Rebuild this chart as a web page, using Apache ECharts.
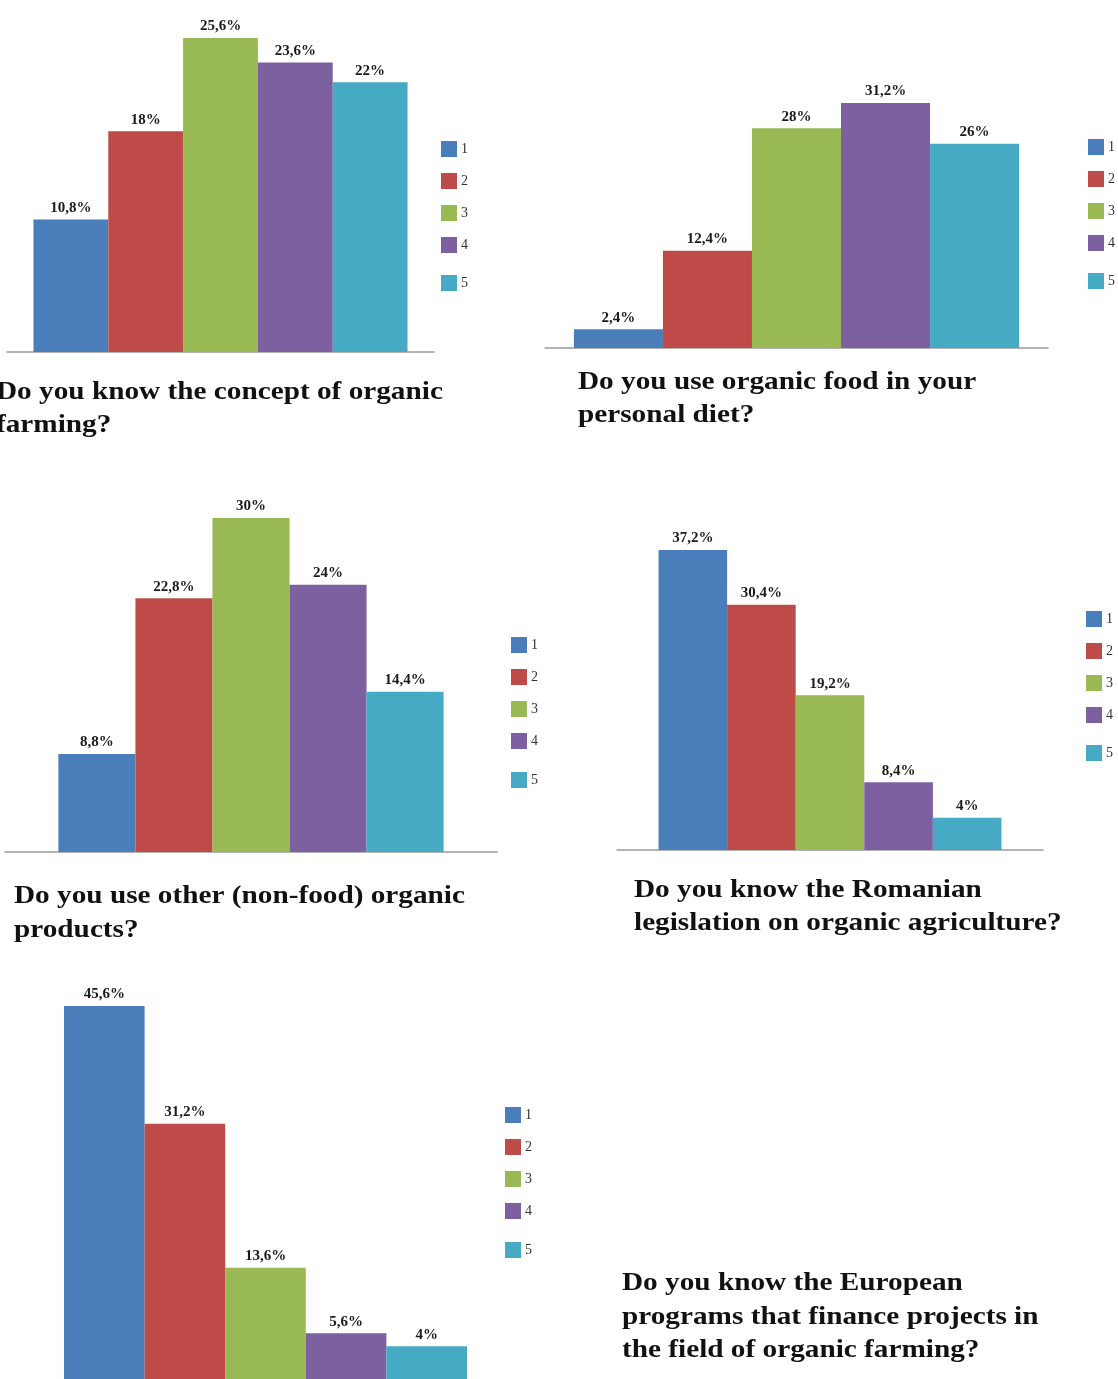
<!DOCTYPE html>
<html>
<head>
<meta charset="utf-8">
<script src="https://cdn.jsdelivr.net/npm/echarts@6/dist/echarts.min.js"></script>
<style>
html,body{margin:0;padding:0;background:#fff;}
#c{width:1118px;height:1379px;}
</style>
</head>
<body>
<div id="c"></div>
<script>
// ---- data ----
const categories = ['1', '2', '3', '4', '5'];
const chart1Values = [10.8, 18, 25.6, 23.6, 22];
const chart2Values = [2.4, 12.4, 28, 31.2, 26];
const chart3Values = [8.8, 22.8, 30, 24, 14.4];
const chart4Values = [37.2, 30.4, 19.2, 8.4, 4];
const chart5Values = [45.6, 31.2, 13.6, 5.6, 4];
const titles = [
  'Do you know the concept of organic\nfarming?',
  'Do you use organic food in your\npersonal diet?',
  'Do you use other (non-food) organic\nproducts?',
  'Do you know the Romanian\nlegislation on organic agriculture?',
  'Do you know the European\nprograms that finance projects in\nthe field of organic farming?'
];
const colors = ['#4A7EBB', '#BE4B48', '#98B954', '#7D60A0', '#46AAC5'];

// ---- layout (styles/positions) ----
const SERIF = '"Liberation Serif", "DejaVu Serif", serif';
const layouts = [
  {grid: {left: 7, right: 684, top: 38, bottom: 1027}, gap: '12.4%', legend: {left: 441, top: 141, top5: 275}, title: {x: -4, y: 376, lh: 33}},
  {grid: {left: 545, right: 70, top: 103, bottom: 1031}, gap: '11.5%', legend: {left: 1088, top: 139, top5: 273}, title: {x: 578, y: 366, lh: 33}},
  {grid: {left: 5, right: 621, top: 518, bottom: 527}, gap: '21.7%', legend: {left: 511, top: 637, top5: 772}, title: {x: 14, y: 879, lh: 34}},
  {grid: {left: 617, right: 75, top: 550, bottom: 529}, gap: '19.5%', legend: {left: 1086, top: 611, top5: 745}, title: {x: 634, y: 874, lh: 33}},
  {grid: {left: 64, right: 651, top: 1006, bottom: -4}, gap: '0%', legend: {left: 505, top: 1107, top5: 1242}, title: {x: 622, y: 1267, lh: 33.5}, noAxis: true}
];
const allValues = [chart1Values, chart2Values, chart3Values, chart4Values, chart5Values];

const option = {
  animation: false,
  backgroundColor: '#fff',
  color: colors,
  grid: [], xAxis: [], yAxis: [], series: [], legend: [], graphic: []
};

const fmt = p => String(p.value).replace('.', ',') + '%';

layouts.forEach((L, i) => {
  option.grid.push(Object.assign({containLabel: false}, L.grid));
  option.xAxis.push({
    type: 'category', gridIndex: i, data: [''],
    axisLine: {show: !L.noAxis, lineStyle: {color: '#9a9a9a', width: 1.5}},
    axisTick: {show: false}, axisLabel: {show: false}, splitLine: {show: false}
  });
  option.yAxis.push({
    type: 'value', gridIndex: i, min: 0, max: 'dataMax', show: false,
    splitLine: {show: false}
  });
  categories.forEach((name, k) => {
    option.series.push({
      type: 'bar', name: name, xAxisIndex: i, yAxisIndex: i,
      data: [allValues[i][k]],
      barGap: '0%', barCategoryGap: L.gap,
      itemStyle: {color: colors[k]},
      label: {
        show: true, position: 'top', distance: 4, formatter: fmt,
        fontFamily: SERIF, fontWeight: 'bold', fontSize: 15, color: '#1a1a1a'
      }
    });
  });
  const legBase = {
    orient: 'vertical', left: L.legend.left, icon: 'rect',
    itemWidth: 16, itemHeight: 16, itemGap: 16, padding: 0,
    selectedMode: false,
    textStyle: {fontFamily: SERIF, fontSize: 14, color: '#333', padding: [0, 0, 0, -1]}
  };
  option.legend.push(Object.assign({}, legBase, {top: L.legend.top, data: categories.slice(0, 4)}));
  option.legend.push(Object.assign({}, legBase, {top: L.legend.top5, data: categories.slice(4)}));
  option.graphic.push({
    type: 'text', x: L.title.x, y: L.title.y, scaleX: 1.125, silent: true,
    style: {
      text: titles[i], fill: '#111',
      font: 'bold 26px ' + SERIF,
      lineHeight: L.title.lh, verticalAlign: 'top', align: 'left'
    }
  });
});

const chart = echarts.init(document.getElementById('c'), null, {renderer: 'canvas'});
chart.setOption(option);
</script>
</body>
</html>
